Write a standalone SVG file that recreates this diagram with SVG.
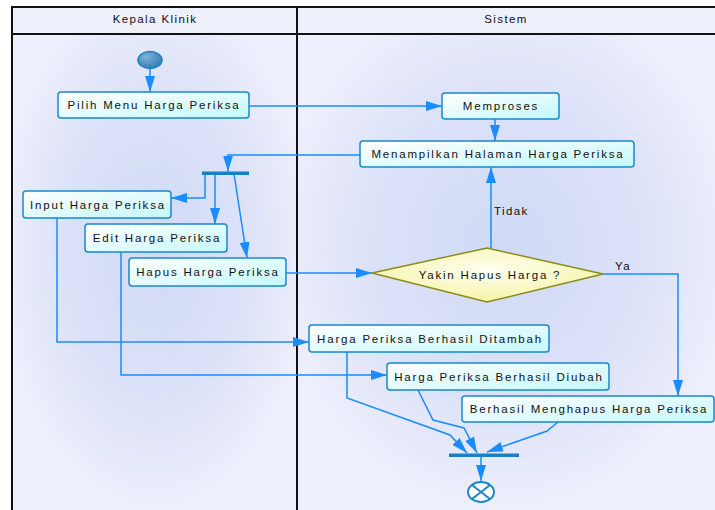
<svg xmlns="http://www.w3.org/2000/svg" width="715" height="510" viewBox="0 0 715 510">
  <defs>
    <radialGradient id="laneFill" cx="0.5" cy="0.45" r="0.55">
      <stop offset="0" stop-color="#d0daf5"/>
      <stop offset="0.6" stop-color="#dce2f8"/>
      <stop offset="1" stop-color="#eeeffc"/>
    </radialGradient>
    <linearGradient id="boxFill" x1="0" y1="0" x2="1" y2="1">
      <stop offset="0" stop-color="#ffffff"/>
      <stop offset="1" stop-color="#c4f8fc"/>
    </linearGradient>
    <radialGradient id="decisionFill" cx="0.5" cy="0.4" r="0.6">
      <stop offset="0" stop-color="#fffff2"/>
      <stop offset="1" stop-color="#f4f4a6"/>
    </radialGradient>
    <radialGradient id="startFill" cx="0.35" cy="0.3" r="0.8">
      <stop offset="0" stop-color="#7fb2d8"/>
      <stop offset="1" stop-color="#2a78b2"/>
    </radialGradient>
    <marker id="arrow" markerUnits="userSpaceOnUse" markerWidth="17" markerHeight="10" refX="16" refY="5" orient="auto">
      <path d="M0,0 L16,5 L0,10 z" fill="#1a8cff"/>
    </marker>
    <style>
      .lane-title { font-family: "Liberation Sans", Arial, sans-serif; font-size: 11.5px; fill: #111; text-anchor: middle; letter-spacing: 1.4px; }
      .label { font-family: "Liberation Sans", Arial, sans-serif; font-size: 11.5px; fill: #111; text-anchor: middle; letter-spacing: 1.8px; }
      .guard { font-family: "Liberation Sans", Arial, sans-serif; font-size: 11.5px; fill: #111; letter-spacing: 1.4px; }
      .box { fill: url(#boxFill); stroke: #1a88cc; stroke-width: 1.5; }
      .edge { fill: none; stroke: #1a8cff; stroke-width: 1.5; marker-end: url(#arrow); }
      .bar { fill: #1a7fc4; }
      .frame { stroke: #111; stroke-width: 2; fill: none; }
    </style>
  </defs>

  <rect width="715" height="510" fill="#ffffff"/>

  <!-- swimlanes -->
  <g id="lanes">
    <rect x="12" y="7" width="703" height="27" fill="#eef0fb"/>
    <rect x="12" y="34" width="285" height="476" fill="url(#laneFill)"/>
    <rect x="297" y="34" width="418" height="476" fill="url(#laneFill)"/>
    <path class="frame" d="M12,510 V7 H715 M12,34 H715 M297,7 V510"/>
    <text class="lane-title" x="155" y="23">Kepala Klinik</text>
    <text class="lane-title" x="506" y="23">Sistem</text>
  </g>

  <!-- connectors -->
  <g id="connectors">
    <path class="edge" d="M150,69 V92"/>
    <path class="edge" d="M249,106 H442"/>
    <path class="edge" d="M495,119 V141"/>
    <path class="edge" d="M360,155 H228 V171.5"/>
    <path class="edge" d="M205,174 V198 H171"/>
    <path class="edge" d="M215,174 V224"/>
    <path class="edge" d="M234,174 L247,258"/>
    <path class="edge" d="M286,273 H372"/>
    <path class="edge" d="M491,248 V167"/>
    <path class="edge" d="M603,274 H678 V396"/>
    <path class="edge" d="M57,218 V342 H309"/>
    <path class="edge" d="M121,252 V375 H387"/>
    <path class="edge" d="M347,352 V398 L450,435 L467,453"/>
    <path class="edge" d="M418,390 L433,420 L464,428 L477,453"/>
    <path class="edge" d="M558,422 L547,431 L487,452"/>
    <path class="edge" d="M481,457 V481"/>
    <text class="guard" x="494" y="215">Tidak</text>
    <text class="guard" x="615" y="270">Ya</text>
  </g>

  <!-- nodes -->
  <g id="start">
    <ellipse cx="150" cy="60" rx="12" ry="8.5" fill="url(#startFill)" stroke="#1a7fc4" stroke-width="1.5"/>
  </g>
  <g id="pilih-menu">
    <rect class="box" x="58" y="92" width="191" height="26" rx="3"/>
    <text class="label" x="154" y="109">Pilih Menu Harga Periksa</text>
  </g>
  <g id="memproses">
    <rect class="box" x="442" y="93" width="117" height="26" rx="3"/>
    <text class="label" x="501" y="110">Memproses</text>
  </g>
  <g id="menampilkan">
    <rect class="box" x="360" y="141" width="274" height="26" rx="3"/>
    <text class="label" x="498" y="158">Menampilkan Halaman Harga Periksa</text>
  </g>
  <g id="fork">
    <rect class="bar" x="202" y="171.5" width="47" height="3.5"/>
  </g>
  <g id="input">
    <rect class="box" x="23" y="191" width="148" height="27" rx="3"/>
    <text class="label" x="98" y="208.5">Input Harga Periksa</text>
  </g>
  <g id="edit">
    <rect class="box" x="85" y="224" width="142" height="28" rx="3"/>
    <text class="label" x="157" y="242">Edit Harga Periksa</text>
  </g>
  <g id="hapus">
    <rect class="box" x="129" y="258" width="157" height="28" rx="3"/>
    <text class="label" x="208" y="276">Hapus Harga Periksa</text>
  </g>
  <g id="decision">
    <polygon points="372,273 487,248 603,274 487,302" fill="url(#decisionFill)" stroke="#8c8c1e" stroke-width="1.5"/>
    <text class="label" x="490" y="279">Yakin Hapus Harga ?</text>
  </g>
  <g id="ditambah">
    <rect class="box" x="309" y="325" width="240" height="27" rx="3"/>
    <text class="label" x="430" y="342.5">Harga Periksa Berhasil Ditambah</text>
  </g>
  <g id="diubah">
    <rect class="box" x="387" y="363" width="222" height="27" rx="3"/>
    <text class="label" x="499" y="380.5">Harga Periksa Berhasil Diubah</text>
  </g>
  <g id="menghapus">
    <rect class="box" x="462" y="396" width="252" height="26" rx="3"/>
    <text class="label" x="589" y="413">Berhasil Menghapus Harga Periksa</text>
  </g>
  <g id="join">
    <rect class="bar" x="449" y="453.5" width="70" height="3.5"/>
  </g>
  <g id="end">
    <ellipse cx="481" cy="492" rx="13" ry="10" fill="#ffffff" stroke="#1a88cc" stroke-width="2"/>
    <path d="M472,485 L490,499 M490,485 L472,499" stroke="#1a88cc" stroke-width="2"/>
  </g>
</svg>
